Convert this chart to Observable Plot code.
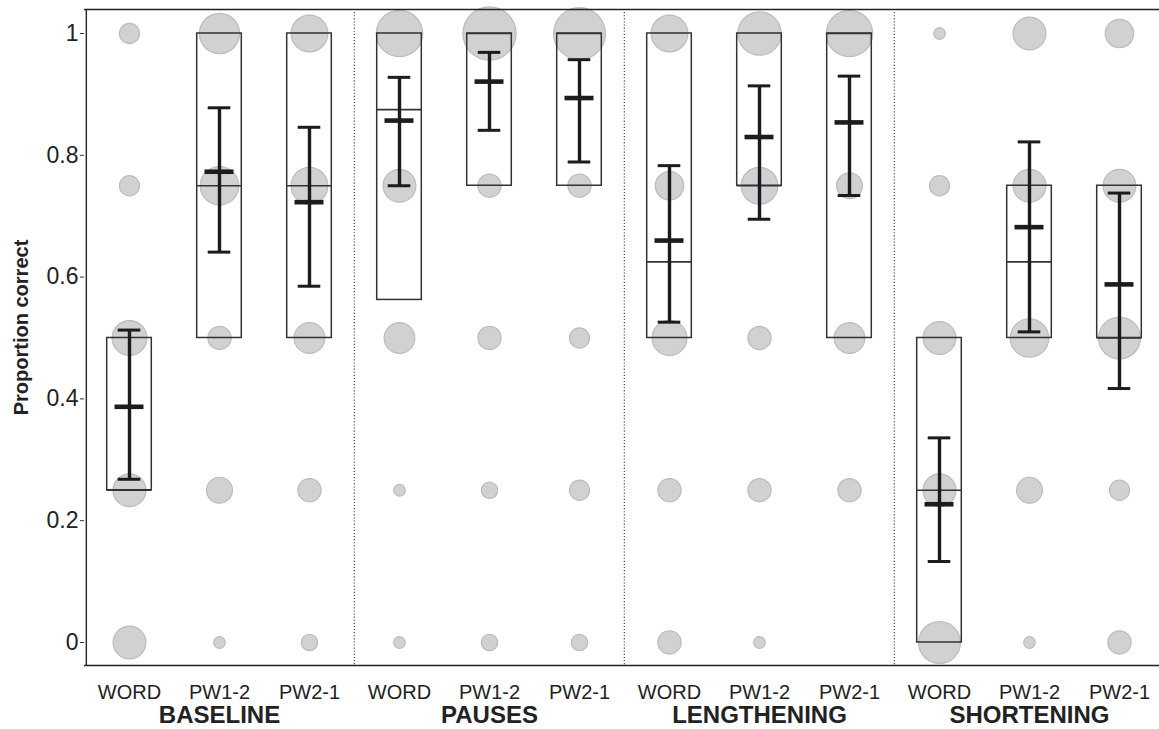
<!DOCTYPE html>
<html><head><meta charset="utf-8">
<script src="https://cdn.jsdelivr.net/npm/d3@7"></script>
<script src="https://cdn.jsdelivr.net/npm/@observablehq/plot@0.6"></script>
<style>
html,body{margin:0;padding:0;background:#fff;}
#chart svg{display:block;}
</style></head><body><div id="chart"></div>
<script>
const groups = ["BASELINE", "PAUSES", "LENGTHENING", "SHORTENING"];
const conditions = ["WORD", "PW1-2", "PW2-1"];
const levels = [0, 0.25, 0.5, 0.75, 1];
const yTicks = [0, 0.2, 0.4, 0.6, 0.8, 1];
const yLabel = "Proportion correct";

// number of participants at each level (0, .25, .5, .75, 1) for WORD, PW1-2, PW2-1
const countsBaseline    = [[8, 8, 9, 3, 3], [1, 5, 4, 11, 12], [2, 4, 7, 10, 10]];
const countsPauses      = [[1, 1, 7, 8, 16], [2, 2, 4, 4, 21], [2, 3, 3, 4, 20]];
const countsLengthening = [[4, 4, 9, 6, 10], [1, 4, 4, 10, 14], [0, 4, 7, 5, 16]];
const countsShortening  = [[13, 8, 8, 3, 1], [1, 5, 11, 8, 8], [4, 3, 13, 8, 6]];

// box (quartiles), mean and error bar per condition, in order of groups x conditions
const boxQ1     = [0.25, 0.5, 0.5,   0.5625, 0.75, 0.75,   0.5, 0.75, 0.5,   0,     0.5,   0.5];
const boxMedian = [0.25, 0.75, 0.75, 0.875,  1,    1,      0.625, 0.75, 1,   0.25,  0.625, 0.5];
const boxQ3     = [0.5,  1,    1,    1,      1,    1,      1,    1,    1,    0.5,   0.75,  0.75];
const means     = [0.387, 0.773, 0.723, 0.857, 0.921, 0.894, 0.660, 0.830, 0.854, 0.227, 0.682, 0.588];
const ciLow     = [0.268, 0.641, 0.585, 0.750, 0.841, 0.789, 0.526, 0.695, 0.734, 0.133, 0.510, 0.417];
const ciHigh    = [0.513, 0.878, 0.846, 0.928, 0.969, 0.957, 0.783, 0.914, 0.930, 0.336, 0.822, 0.738];

const countsAll = [countsBaseline, countsPauses, countsLengthening, countsShortening];
const keys = groups.flatMap(g => conditions.map(c => g + "|" + c));

const points = groups.flatMap((g, gi) => conditions.flatMap((c, ci) =>
  levels.map((lv, li) => ({key: g + "|" + c, y: lv, n: countsAll[gi][ci][li]}))
)).filter(d => d.n > 0);

const summary = keys.map((k, i) => ({
  key: k, q1: boxQ1[i], med: boxMedian[i], q3: boxQ3[i],
  mean: means[i], lo: ciLow[i], hi: ciHigh[i]
}));

const yDomain = [-0.0378, 1.0394];
const bw = (1166 - 82) / 12;
const separators = keys.filter((k, i) => i > 0 && i % 3 === 0);
const groupCenters = groups.map((g, i) => ({key: keys[i * 3 + 1], label: g}));

const chart = Plot.plot({
  width: 1159,
  height: 729,
  marginTop: 9,
  marginBottom: 64,
  marginLeft: 84,
  marginRight: 0,
  style: {fontFamily: "'Liberation Sans', Arial, sans-serif", color: "#222", background: "#fff"},
  x: {type: "band", domain: keys, range: [82, 1166], padding: 0},
  y: {domain: yDomain},
  r: {type: "sqrt", domain: [0, 21], range: [0, 26.6]},
  marks: [
    Plot.ruleX(separators, {x: d => d, dx: -bw / 2, stroke: "#444", strokeWidth: 1.2, strokeDasharray: "1.1,2"}),
    Plot.dot(points, {x: "key", y: "y", r: "n", fill: "#d1d1d3", stroke: "#bcbcbe", strokeWidth: 1.2}),
    Plot.barY(summary, {x: "key", y1: "q1", y2: "q3", fill: "none", stroke: "#333", strokeWidth: 1.5, insetLeft: 22.7, insetRight: 22.7}),
    Plot.tickY(summary, {x: "key", y: "med", stroke: "#333", strokeWidth: 1.7, insetLeft: 22.7, insetRight: 22.7}),
    Plot.ruleX(summary, {x: "key", y1: "lo", y2: "hi", stroke: "#1c1c1c", strokeWidth: 3.4}),
    Plot.tickY(summary, {x: "key", y: "lo", stroke: "#1c1c1c", strokeWidth: 3, insetLeft: 33.7, insetRight: 33.7}),
    Plot.tickY(summary, {x: "key", y: "hi", stroke: "#1c1c1c", strokeWidth: 3, insetLeft: 33.7, insetRight: 33.7}),
    Plot.tickY(summary, {x: "key", y: "mean", stroke: "#1c1c1c", strokeWidth: 4.6, insetLeft: 30.5, insetRight: 30.5}),
    Plot.ruleY(yDomain, {stroke: "#222", strokeWidth: 1.4}),
    Plot.ruleX([keys[0]], {x: d => d, dx: -bw / 2 + 2, stroke: "#222", strokeWidth: 1.4}),
    Plot.axisY({ticks: yTicks, tickFormat: d => String(d), tickSize: 4, tickPadding: 2, fontSize: 23, label: null, stroke: "#333", color: "#222"}),
    Plot.axisX({tickSize: 0, tickPadding: 19, fontSize: 20, label: null, tickFormat: d => d.split("|")[1], color: "#222"}),
    Plot.text(groupCenters, {x: "key", text: "label", frameAnchor: "bottom", dy: 57, fontSize: 24, fontWeight: "bold", fill: "#222"}),
    Plot.text([yLabel], {text: d => d, frameAnchor: "left", textAnchor: "middle", rotate: -90, dx: -63, dy: -10, fontSize: 20, fontWeight: "bold", fill: "#222"})
  ]
});
document.getElementById("chart").appendChild(chart);
</script></body></html>
